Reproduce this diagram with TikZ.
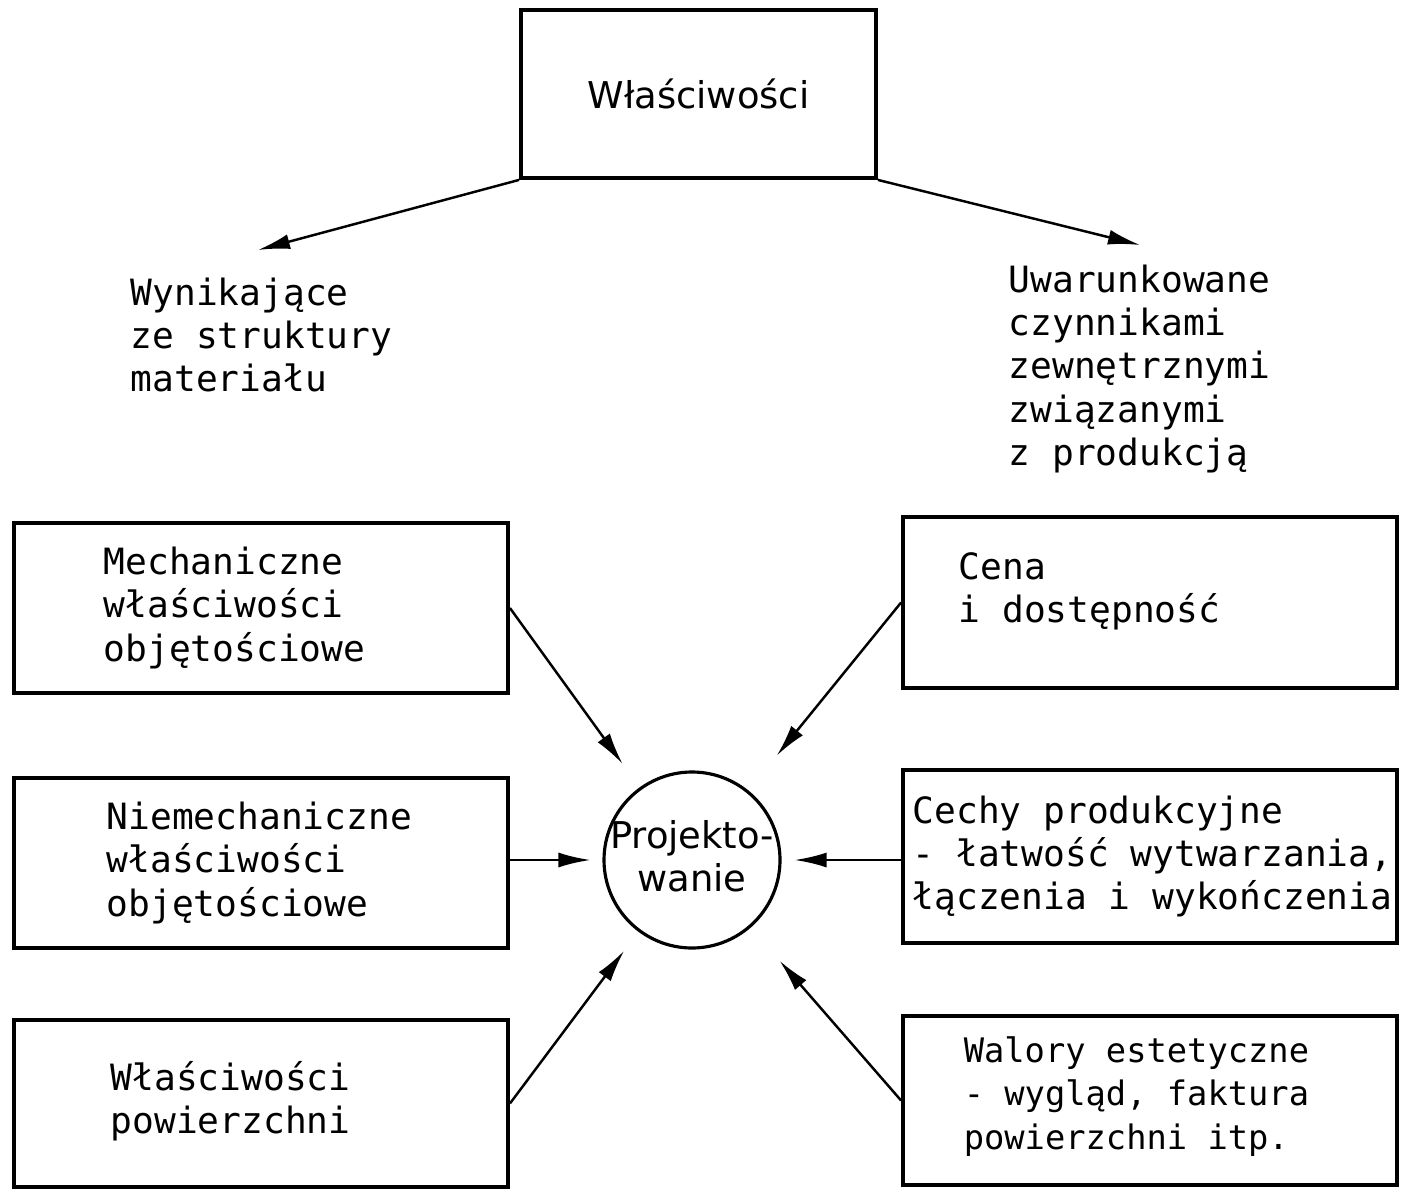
\documentclass[tikz,border=0pt]{standalone}
\usepackage{fontspec}
\setmonofont{DejaVu Sans Mono}
\setsansfont{DejaVu Sans}
\usepackage{tikz}
\usetikzlibrary{positioning}
\usetikzlibrary{arrows.meta}

\begin{document}
\begin{tikzpicture}[
  box/.style={draw, line width=1.1pt, minimum width=4.94cm, minimum height=1.7cm},
  txt/.style={inner sep=0pt, align=left, anchor=west, font=\ttfamily\fontsize{10.3}{12.3}\selectfont},
  arr/.style={-{Latex[length=3.2mm,width=1.5mm]}, line width=0.7pt}
]
\useasboundingbox (0,0) rectangle (14.01,11.89);

% top
\node[box, minimum width=3.55cm, minimum height=1.68cm, font=\sffamily\fontsize{10.5}{12}\selectfont] (wlas) at (6.985,10.95) {Właściwości};

\coordinate (wynTip) at (2.58,9.39);
\coordinate (uwaTip) at (11.40,9.44);
\draw[arr] (wlas.south west) -- (wynTip);
\draw[arr] (wlas.south east) -- (uwaTip);

\node[txt] (wyn) at (1.30,8.54) {Wynikające\\ze struktury\\materiału};
\node[txt] (uwa) at (10.08,8.20) {Uwarunkowane\\czynnikami\\zewnętrznymi\\związanymi\\z produkcją};

% left column
\node[box] (mech) at (2.61,5.81) {};
\node[txt] (mechT) at ([xshift=0.91cm]mech.west) {Mechaniczne\\właściwości\\objętościowe};

\node[box] (niem) at (2.61,3.26) {};
\node[txt] (niemT) at ([xshift=0.94cm]niem.west) {Niemechaniczne\\właściwości\\objętościowe};

\node[box, minimum height=1.67cm] (powi) at (2.61,0.855) {};
\node[txt] (powiT) at ([xshift=0.98cm,yshift=0.02cm]powi.west) {Właściwości\\powierzchni};

% right column
\node[box, minimum height=1.71cm] (cena) at (11.50,5.865) {};
\node[txt] (cenaT) at ([xshift=0.57cm,yshift=0.11cm]cena.west) {Cena\\i dostępność};

\node[box, minimum height=1.73cm] (cech) at (11.50,3.325) {};
\node[txt] (cechT) at ([xshift=0.11cm]cech.west) {Cechy produkcyjne\\- łatwość wytwarzania,\\łączenia i wykończenia};

\node[box, minimum height=1.69cm] (walo) at (11.50,0.885) {};
\node[txt, font=\ttfamily\fontsize{9.6}{12.3}\selectfont] (waloT) at ([xshift=0.62cm,yshift=0.04cm]walo.west) {Walory estetyczne\\- wygląd, faktura\\powierzchni itp.};

% centre
\node[circle, draw, line width=0.9pt, minimum size=1.76cm] (proj) at (6.92,3.29) {};
\node[align=center, inner sep=0pt, font=\sffamily\fontsize{10.5}{12.2}\selectfont] (projT) at ([yshift=0.04cm]proj) {Projekto-\\wanie};

\draw[arr, shorten >=0.29cm] (mech.east) -- (proj);
\draw[arr, shorten >=0.12cm] (niem.east |- proj) -- (proj.west);
\draw[arr, shorten >=0.24cm] (powi.east) -- (proj);
\draw[arr, shorten >=0.45cm] (cena.west) -- (proj);
\draw[arr, shorten >=0.13cm] (cech.west |- proj) -- (proj.east);
\draw[arr, shorten >=0.44cm] (walo.west) -- (proj);

\end{tikzpicture}
\end{document}
